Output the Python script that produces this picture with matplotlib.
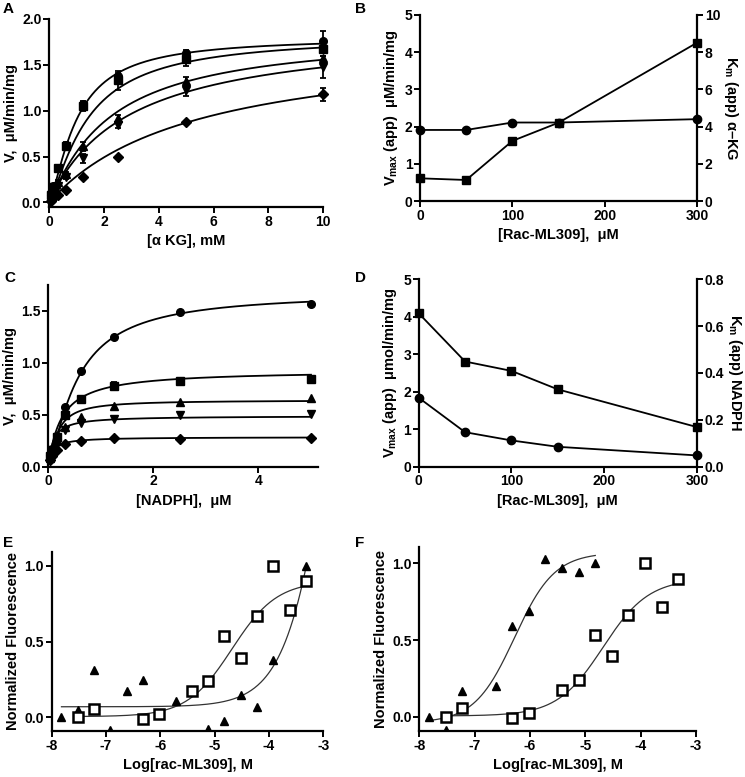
import numpy as np
import matplotlib
matplotlib.use("Agg")
import matplotlib.pyplot as plt

plt.rcParams['font.family'] = ['Liberation Sans', 'DejaVu Sans']
plt.rcParams['font.weight'] = 'bold'
plt.rcParams['axes.unicode_minus'] = False
plt.rcParams['mathtext.fontset'] = 'custom'
plt.rcParams['mathtext.rm'] = 'Liberation Sans:bold'
plt.rcParams['mathtext.it'] = 'Liberation Sans:bold'
plt.rcParams['mathtext.bf'] = 'Liberation Sans:bold'
plt.rcParams['mathtext.default'] = 'rm'

# ---------------- Panel A data ----------------
akg_x = [0.078, 0.156, 0.3125, 0.625, 1.25, 2.5, 5, 10]
akg_circle = [0.10, 0.18, 0.38, 0.63, 1.07, 1.38, 1.63, 1.76]
akg_square = [0.08, 0.17, 0.37, 0.62, 1.05, 1.33, 1.56, 1.67]
akg_tri_up = [0.05, 0.10, 0.22, 0.31, 0.61, 0.92, 1.32, 1.57]
akg_tri_dn = [0.04, 0.08, 0.18, 0.28, 0.48, 0.84, 1.23, 1.48]
akg_diamond = [0.02, 0.05, 0.08, 0.13, 0.28, 0.49, 0.88, 1.18]
akg_err_circle = [0.02, 0.02, 0.02, 0.03, 0.04, 0.03, 0.03, 0.11]
akg_err_square = [0.02, 0.02, 0.02, 0.03, 0.05, 0.10, 0.07, 0.04]
akg_err_tri_up = [0.01, 0.01, 0.02, 0.02, 0.05, 0.03, 0.05, 0.03]
akg_err_tri_dn = [0.01, 0.01, 0.02, 0.02, 0.05, 0.03, 0.07, 0.12]
akg_err_diamond = [0.01, 0.01, 0.01, 0.01, 0.01, 0.01, 0.01, 0.07]
# fitted curve parameters (Vmax, K, Hill)
akg_fit_vmax = [1.80, 1.82, 1.85, 1.90, 1.79]
akg_fit_k = [1.00, 1.40, 2.20, 2.90, 5.30]
akg_fit_h = [1.4, 1.3, 1.1, 1.0, 1.0]

# ---------------- Panel B data ----------------
rac_conc = [0, 50, 100, 150, 300]
b_vmax = [1.91, 1.91, 2.11, 2.11, 2.20]
b_km = [1.22, 1.13, 3.23, 4.21, 8.51]

# ---------------- Panel C data ----------------
nadph_x = [0.039, 0.078, 0.156, 0.3125, 0.625, 1.25, 2.5, 5]
nadph_circle = [0.10, 0.17, 0.30, 0.578, 0.92, 1.25, 1.494, 1.571]
nadph_square = [0.10, 0.16, 0.29, 0.50, 0.655, 0.78, 0.826, 0.842]
nadph_tri_up = [0.08, 0.14, 0.25, 0.385, 0.48, 0.585, 0.623, 0.665]
nadph_tri_dn = [0.07, 0.12, 0.22, 0.35, 0.42, 0.456, 0.498, 0.508]
nadph_diamond = [0.06, 0.10, 0.16, 0.218, 0.244, 0.272, 0.267, 0.273]
nadph_err_square = [0.01, 0.01, 0.01, 0.02, 0.02, 0.04, 0.03, 0.01]
nadph_fit_vmax = [1.68, 0.93, 0.64, 0.489, 0.285]
nadph_fit_k = [0.55, 0.25, 0.17, 0.093, 0.08]
nadph_fit_h = [1.3, 1.0, 1.3, 1.0, 1.0]

# ---------------- Panel D data ----------------
d_vmax = [1.84, 0.92, 0.70, 0.53, 0.30]
d_km = [0.655, 0.449, 0.409, 0.330, 0.169]

# ---------------- Panels E/F data ----------------
log_conc_sq = [-7.52, -7.22, -6.32, -6.02, -5.42, -5.12, -4.82, -4.52, -4.22, -3.92, -3.62, -3.32]
fluor_sq = [0.0, 0.055, -0.011, 0.022, 0.177, 0.237, 0.535, 0.394, 0.666, 1.0, 0.712, 0.90]
log_conc_tri_e = [-7.82, -7.52, -7.22, -6.92, -6.62, -6.32, -5.72, -5.12, -4.82, -4.52, -4.22, -3.92, -3.32]
fluor_tri_e = [0.0, 0.049, 0.31, -0.085, 0.177, 0.248, 0.108, -0.077, -0.024, 0.146, 0.071, 0.38, 1.0]
log_conc_tri_f = [-7.82, -7.52, -7.22, -6.62, -6.32, -6.02, -5.72, -5.42, -5.12, -4.82]
fluor_tri_f = [-0.004, -0.085, 0.17, 0.20, 0.59, 0.69, 1.03, 0.97, 0.94, 1.0]
# logistic fit parameters (bottom, top, logEC50, hill)
fit_sq = [0.005, 0.90, -4.68, 1.05]
fit_tri_e = [0.07, 5.0, -2.68, 1.0]
fit_tri_f = [-0.04, 1.07, -6.28, 1.2]

LABEL_FS = 10.5
TICK_FS = 10


def hill(x, vmax, k, h):
    x = np.asarray(x, dtype=float)
    return vmax * x ** h / (k ** h + x ** h)


def logistic(x, p):
    b, t, ec, h = p
    return b + (t - b) / (1 + 10 ** ((ec - x) * h))


def style(ax, right=False):
    for s in ['top'] + ([] if right else ['right']):
        ax.spines[s].set_visible(False)
    for s in ax.spines.values():
        s.set_linewidth(1.6)
    ax.tick_params(direction='out', length=4, width=1.4, labelsize=TICK_FS, pad=1.5)
    for lab in ax.get_xticklabels() + ax.get_yticklabels():
        lab.set_fontweight('bold')


fig = plt.figure(figsize=(7.45, 7.77), dpi=100)

# ---------------- A ----------------
axA = fig.add_axes([0.0658, 0.7336, 0.368, 0.242])
markers = ['o', 's', '^', 'v', 'D']
sizes = [5.5, 5.5, 6, 6, 5]
a_series = [akg_circle, akg_square, akg_tri_up, akg_tri_dn, akg_diamond]
a_errs = [akg_err_circle, akg_err_square, akg_err_tri_up, akg_err_tri_dn, akg_err_diamond]
xs = np.linspace(0, 10, 400)
for i in range(5):
    axA.plot(xs, hill(xs, akg_fit_vmax[i], akg_fit_k[i], akg_fit_h[i]), color='black', lw=1.3)
    axA.errorbar(akg_x, a_series[i], yerr=a_errs[i], fmt=markers[i], color='black',
                 ms=sizes[i], capsize=2.5, elinewidth=1.3, capthick=1.3, clip_on=False, zorder=3)
axA.set_xlim(0, 10)
axA.set_ylim(-0.05, 2.0)
axA.set_xticks([0, 2, 4, 6, 8, 10])
axA.set_yticks([0.0, 0.5, 1.0, 1.5, 2.0])
axA.set_yticklabels(['0.0', '0.5', '1.0', '1.5', '2.0'])
axA.set_xlabel('[\u03b1 KG], mM', fontsize=LABEL_FS, fontweight='bold', labelpad=4)
axA.set_ylabel('V,  \u03bcM/min/mg', fontsize=LABEL_FS, fontweight='bold', labelpad=3)
style(axA)

# ---------------- B ----------------
axB = fig.add_axes([0.5638, 0.7413, 0.3718, 0.2394])
axB.plot(rac_conc, b_vmax, marker='o', color='black', lw=1.3, ms=6, clip_on=False, zorder=3)
axB.set_xlim(0, 300)
axB.set_ylim(0, 5)
axB.set_xticks([0, 100, 200, 300])
axB.set_yticks([0, 1, 2, 3, 4, 5])
axB.set_xlabel('[Rac-ML309],  \u03bcM', fontsize=LABEL_FS, fontweight='bold', labelpad=4)
axB.set_ylabel('V$_{max}$ (app)  \u03bcM/min/mg', fontsize=LABEL_FS, fontweight='bold', labelpad=3)
style(axB)
axB.spines['right'].set_visible(False)
axB2 = axB.twinx()
axB2.plot(rac_conc, b_km, marker='s', color='black', lw=1.3, ms=6, clip_on=False, zorder=3)
axB2.set_ylim(0, 10)
axB2.set_yticks([0, 2, 4, 6, 8, 10])
axB2.set_ylabel('K$_{m}$ (app) \u03b1\u2013KG', fontsize=LABEL_FS, fontweight='bold',
                rotation=270, labelpad=14)
for s in ['top', 'left', 'bottom']:
    axB2.spines[s].set_visible(False)
axB2.spines['right'].set_linewidth(1.6)
axB2.tick_params(direction='out', length=4, width=1.4, labelsize=TICK_FS, pad=1.5)

# ---------------- C ----------------
axC = fig.add_axes([0.0649, 0.3994, 0.3624, 0.2338])
c_series = [nadph_circle, nadph_square, nadph_tri_up, nadph_tri_dn, nadph_diamond]
xs = np.linspace(nadph_x[0], 5, 400)
for i in range(5):
    axC.plot(xs, hill(xs, nadph_fit_vmax[i], nadph_fit_k[i], nadph_fit_h[i]), color='black', lw=1.3)
    if i == 1:
        axC.errorbar(nadph_x, c_series[i], yerr=nadph_err_square, fmt=markers[i], color='black',
                     ms=sizes[i], capsize=2.5, elinewidth=1.3, capthick=1.3, clip_on=False, zorder=3)
    else:
        axC.plot(nadph_x, c_series[i], markers[i], color='black', ms=sizes[i], clip_on=False, zorder=3)
axC.set_xlim(0, 5.14)
axC.set_ylim(0, 1.75)
axC.set_xticks([0, 2, 4])
axC.set_yticks([0.0, 0.5, 1.0, 1.5])
axC.set_yticklabels(['0.0', '0.5', '1.0', '1.5'])
axC.set_xlabel('[NADPH],  \u03bcM', fontsize=LABEL_FS, fontweight='bold', labelpad=4)
axC.set_ylabel('V,  \u03bcM/min/mg', fontsize=LABEL_FS, fontweight='bold', labelpad=3)
style(axC)

# ---------------- D ----------------
axD = fig.add_axes([0.562, 0.3994, 0.3736, 0.2411])
axD.plot(rac_conc, d_vmax, marker='o', color='black', lw=1.3, ms=6, clip_on=False, zorder=3)
axD.set_xlim(0, 300)
axD.set_ylim(0, 5)
axD.set_xticks([0, 100, 200, 300])
axD.set_yticks([0, 1, 2, 3, 4, 5])
axD.set_xlabel('[Rac-ML309],  \u03bcM', fontsize=LABEL_FS, fontweight='bold', labelpad=4)
axD.set_ylabel('V$_{max}$ (app)  \u03bcmol/min/mg', fontsize=LABEL_FS, fontweight='bold', labelpad=3)
style(axD)
axD.spines['right'].set_visible(False)
axD2 = axD.twinx()
axD2.plot(rac_conc, d_km, marker='s', color='black', lw=1.3, ms=6, clip_on=False, zorder=3)
axD2.set_ylim(0, 0.8)
axD2.set_yticks([0.0, 0.2, 0.4, 0.6, 0.8])
axD2.set_yticklabels(['0.0', '0.2', '0.4', '0.6', '0.8'])
axD2.set_ylabel('K$_{m}$ (app) NADPH', fontsize=LABEL_FS, fontweight='bold',
                rotation=270, labelpad=14)
for s in ['top', 'left', 'bottom']:
    axD2.spines[s].set_visible(False)
axD2.spines['right'].set_linewidth(1.6)
axD2.tick_params(direction='out', length=4, width=1.4, labelsize=TICK_FS, pad=1.5)

# ---------------- E ----------------
def dose_panel(ax, tri_x, tri_y, tri_fit, ylim):
    xs_sq = np.linspace(log_conc_sq[0], log_conc_sq[-1], 300)
    xs_tri = np.linspace(tri_x[0], tri_x[-1], 300)
    ax.plot(xs_sq, logistic(xs_sq, fit_sq), color='#333333', lw=0.9)
    ax.plot(xs_tri, logistic(xs_tri, tri_fit), color='#333333', lw=0.9)
    ax.plot(tri_x, tri_y, '^', color='black', ms=6, zorder=3)
    ax.plot(log_conc_sq, fluor_sq, 's', mfc='white', mec='black', mew=1.8, ms=7, zorder=4)
    ax.set_xlim(-8, -3)
    ax.set_ylim(*ylim)
    ax.set_xticks([-8, -7, -6, -5, -4, -3])
    ax.set_yticks([0.0, 0.5, 1.0])
    ax.set_yticklabels(['0.0', '0.5', '1.0'])
    ax.set_xlabel('Log[rac-ML309], M', fontsize=LABEL_FS, fontweight='bold', labelpad=4)
    ax.set_ylabel('Normalized Fluorescence', fontsize=LABEL_FS, fontweight='bold', labelpad=3)
    style(ax)


axE = fig.add_axes([0.0694, 0.0592, 0.3646, 0.2308])
dose_panel(axE, log_conc_tri_e, fluor_tri_e, fit_tri_e, (-0.09, 1.094))
axF = fig.add_axes([0.5628, 0.0592, 0.3714, 0.2372])
dose_panel(axF, log_conc_tri_f, fluor_tri_f, fit_tri_f, (-0.093, 1.108))

# panel letters
for lab, (px, py) in zip('ABCDEF', [(8, 9), (360, 9), (10, 278), (360, 278), (8, 543), (360, 543)]):
    fig.text(px / 745, 1 - py / 777, lab, fontsize=11, fontweight='bold', ha='center', va='center')

fig.savefig('out.png', dpi=100)
